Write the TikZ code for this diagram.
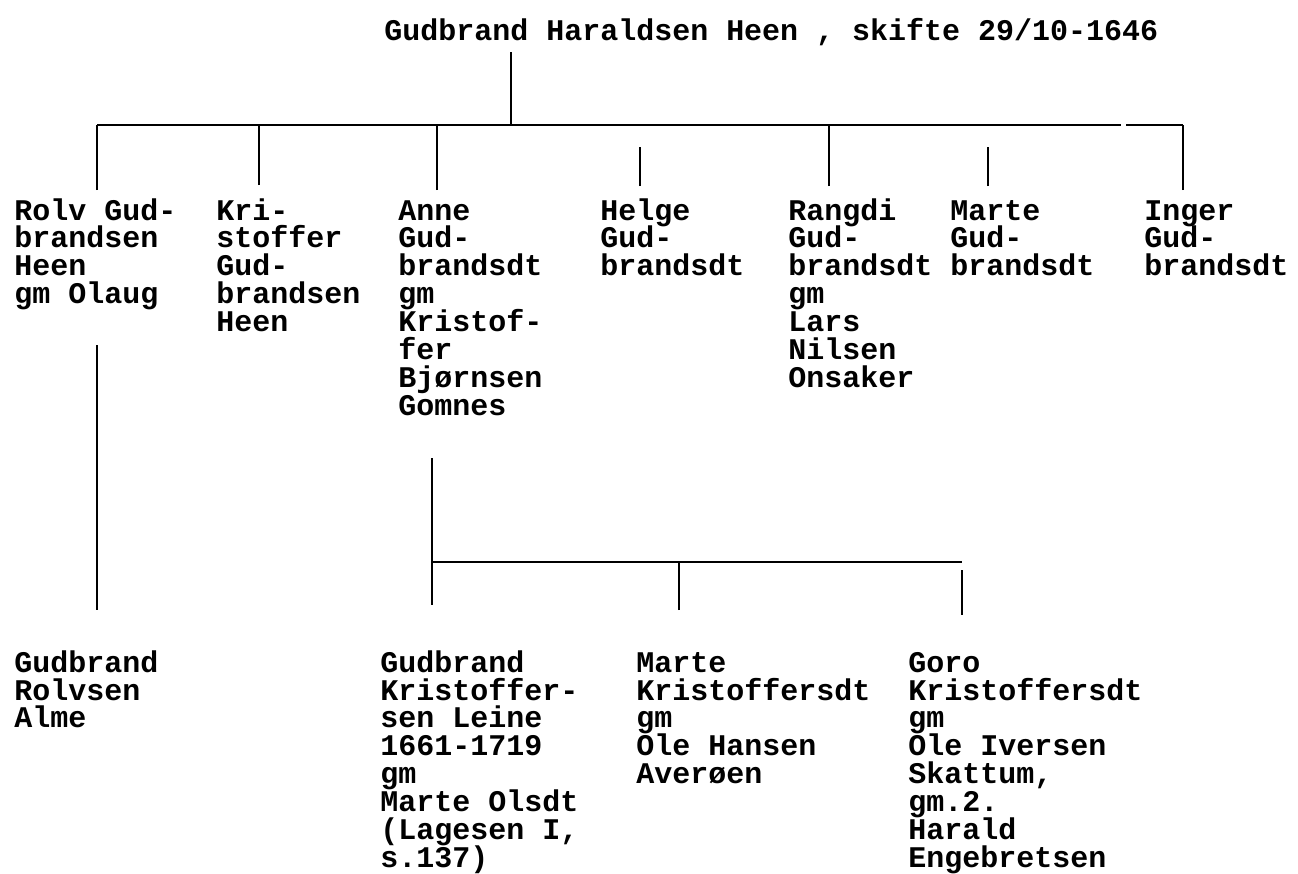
\documentclass[tikz,border=0pt]{standalone}
\usepackage{fontspec}
\setmonofont{Liberation Mono}
\newcommand{\typewriterfont}{\ttfamily\bfseries\fontsize{17.07}{15.93}\selectfont\lineskiplimit=-100pt\relax}
\begin{document}
\begin{tikzpicture}[x=0.02cm, y=-0.02cm,
      person/.style={anchor=base west, align=left, inner sep=0pt, font=\typewriterfont, yshift={-(#1-1)*15.93pt}},
      person/.default=1,
      link/.style={line width=1.4pt}
    ]
      \useasboundingbox (0,0) rectangle (1298,873);
      \node[person] (head) at (384,40) {Gudbrand Haraldsen Heen , skifte 29/10-1646};
      \coordinate (head down) at (511,52);
      \coordinate (bar) at (0,125);
      \coordinate (bar gap) at (1121,125);

      \node[person=4] (rolv) at (14,220) {Rolv Gud-\\brandsen\\Heen\\gm Olaug};
      \node[person=5] (kris) at (216,220) {Kri-\\stoffer\\Gud-\\brandsen\\Heen};
      \node[person=8] (anne) at (398,220) {Anne\\Gud-\\brandsdt\\gm\\Kristof-\\fer\\Bjørnsen\\Gomnes};
      \node[person=3] (helge) at (600,220) {Helge\\Gud-\\brandsdt};
      \node[person=7] (rangdi) at (788,220) {Rangdi\\Gud-\\brandsdt\\gm\\Lars\\Nilsen\\Onsaker};
      \node[person=3] (marte) at (950,220) {Marte\\Gud-\\brandsdt};
      \node[person=3] (inger) at (1144,220) {Inger\\Gud-\\brandsdt};

      \coordinate (rolv up) at (97,190);
      \coordinate (kris up) at (259,185);
      \coordinate (anne up) at (437,190);
      \coordinate (helge up) at (640,186);
      \coordinate (helge top) at (640,147);
      \coordinate (rangdi up) at (829,186);
      \coordinate (marte up) at (988,186);
      \coordinate (marte top) at (988,147);
      \coordinate (inger up) at (1183,190);

      \node[person=3] (almeR) at (14,672) {Gudbrand\\Rolvsen\\Alme};
      \node[person=8] (leine) at (380,672) {Gudbrand\\Kristoffer-\\sen Leine\\1661-1719\\gm\\Marte Olsdt\\(Lagesen I,\\s.137)};
      \node[person=5] (averoen) at (636,672) {Marte\\Kristoffersdt\\gm\\Ole Hansen\\Averøen};
      \node[person=8] (goro) at (908,672) {Goro\\Kristoffersdt\\gm\\Ole Iversen\\Skattum,\\gm.2.\\Harald\\Engebretsen};

      \coordinate (rolv down) at (97,345);
      \coordinate (almeR up) at (97,610);
      \coordinate (anne down) at (432,458);
      \coordinate (leine up) at (432,605);
      \coordinate (sub) at (0,562);
      \coordinate (averoen up) at (679,610);
      \coordinate (goro top) at (962,570);
      \coordinate (goro up) at (962,615);

      \draw[link] (head down) -- (head down |- bar);
      \draw[link] (bar -| rolv up) -- (bar gap) (bar gap) ++(5,0) -- (bar -| inger up);
      \draw[link] (rolv up) -- (rolv up |- bar);
      \draw[link] (kris up) -- (kris up |- bar);
      \draw[link] (anne up) -- (anne up |- bar);
      \draw[link] (helge up) -- (helge top);
      \draw[link] (rangdi up) -- (rangdi up |- bar);
      \draw[link] (marte up) -- (marte top);
      \draw[link] (inger up) -- (inger up |- bar);

      \draw[link] (rolv down) -- (almeR up);
      \draw[link] (anne down) -- (leine up);
      \draw[link] (sub -| anne down) -- (sub -| goro up);
      \draw[link] (averoen up) -- (averoen up |- sub);
      \draw[link] (goro top) -- (goro up);
    \end{tikzpicture}
\end{document}
